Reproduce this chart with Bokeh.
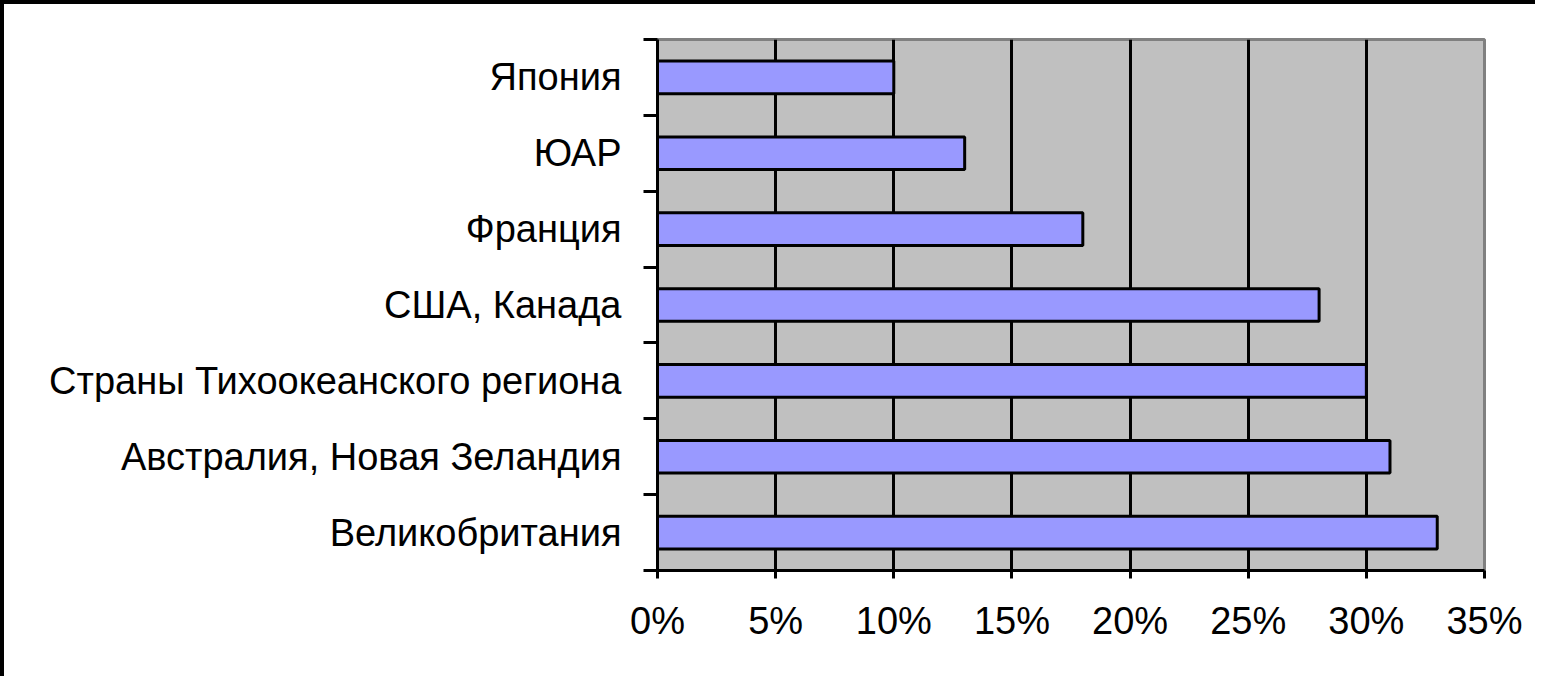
from bokeh.plotting import figure
from bokeh.models import FixedTicker, NumeralTickFormatter, ColumnDataSource, Range1d
from bokeh.embed import file_html
from bokeh.resources import INLINE

categories = ["Великобритания", "Австралия, Новая Зеландия", "Страны Тихоокеанского региона",
              "США, Канада", "Франция", "ЮАР", "Япония"]
values = [0.33, 0.31, 0.30, 0.28, 0.18, 0.13, 0.10]
x_ticks = [0.0, 0.05, 0.10, 0.15, 0.20, 0.25, 0.30, 0.35]

ypos = [i + 0.5 for i in range(len(categories))]
src = ColumnDataSource(dict(y=ypos, v=values, name=categories))

FONT = "Liberation Sans"

p = figure(width=1535, height=676, output_backend="svg", toolbar_location=None,
           x_range=Range1d(0, 0.35), y_range=Range1d(0, len(categories)),
           min_border_left=653, min_border_right=55, min_border_top=35, min_border_bottom=110)
p.styles = {"border-left": "4px solid black", "border-top": "4px solid black", "box-sizing": "border-box"}

p.background_fill_color = "#C0C0C0"
p.border_fill_color = "white"
p.outline_line_color = "#808080"
p.outline_line_width = 3

p.hbar(y="y", right="v", left=0, height=0.43, source=src,
       fill_color="#9999FF", line_color="black", line_width=3)

# x axis
p.xaxis.ticker = FixedTicker(ticks=x_ticks)
p.xaxis.formatter = NumeralTickFormatter(format="0%")
p.xaxis.axis_line_width = 3
p.xaxis.axis_line_color = "black"
p.xaxis.major_tick_line_width = 3
p.xaxis.major_tick_out = 8
p.xaxis.major_tick_in = 0
p.xaxis.minor_tick_line_color = None
p.xaxis.major_label_text_font = FONT
p.xaxis.major_label_text_font_size = "38px"
p.xaxis.major_label_text_color = "black"
p.xaxis.major_label_standoff = 21

# y axis: labels at centres, ticks at boundaries
p.yaxis.ticker = FixedTicker(ticks=ypos, minor_ticks=list(range(len(categories) + 1)))
p.yaxis.major_label_overrides = {y: c for y, c in zip(ypos, categories)}
p.yaxis.axis_line_width = 3
p.yaxis.axis_line_color = "black"
p.yaxis.major_tick_out = 0
p.yaxis.major_tick_in = 0
p.yaxis.major_tick_line_color = None
p.yaxis.minor_tick_out = 14
p.yaxis.minor_tick_in = 0
p.yaxis.minor_tick_line_width = 3
p.yaxis.minor_tick_line_color = "black"
p.yaxis.major_label_text_font = FONT
p.yaxis.major_label_text_font_size = "38px"
p.yaxis.major_label_text_color = "black"
p.yaxis.major_label_standoff = 22

p.xgrid.ticker = FixedTicker(ticks=x_ticks[1:-1])
p.xgrid.grid_line_color = "black"
p.xgrid.grid_line_width = 3
p.ygrid.grid_line_color = None

open("out.html", "w").write(file_html(p, INLINE))
